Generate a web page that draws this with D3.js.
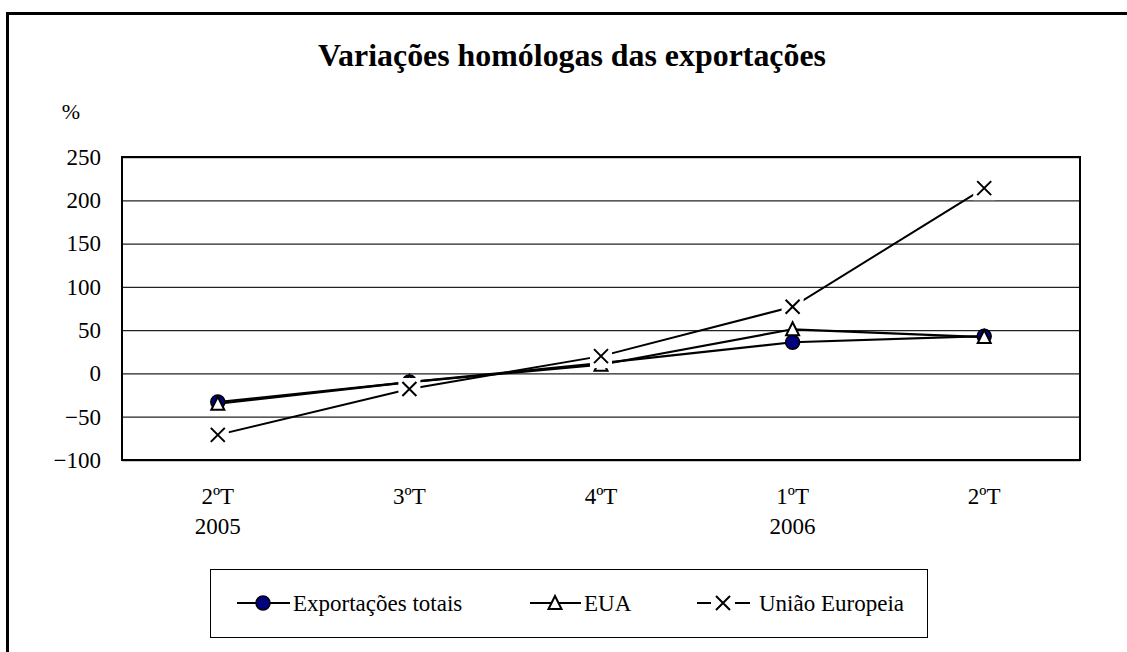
<!DOCTYPE html>
<html><head><meta charset="utf-8">
<script src="https://cdn.jsdelivr.net/npm/d3@7"></script>
<style>html,body{margin:0;padding:0;background:#fff;}svg{display:block;}</style>
</head><body>
<svg id="chart" width="1127" height="652"></svg>
<script>
const categories = ["2ºT", "3ºT", "4ºT", "1ºT", "2ºT"];
const years = ["2005", "", "", "2006", ""];
const totais = [-33, -10, 12, 36, 43];
const eua = [-35, -10, 10, 51, 42];
const ue = [-71, -18, 20, 77, 214];
const yTicks = [-100, -50, 0, 50, 100, 150, 200, 250];
const seriesNames = ["Exportações totais", "EUA", "União Europeia"];
const title = "Variações homólogas das exportações";

const FONT = "'Liberation Serif','Times New Roman',serif";
const FS = 23;
const svg = d3.select("#chart");

// outer frame
svg.append("rect").attr("x", 7.5).attr("y", 13.5).attr("width", 1200).attr("height", 700)
  .attr("fill", "none").attr("stroke", "#000").attr("stroke-width", 3);

svg.append("text").attr("x", 572).attr("y", 66).attr("text-anchor", "middle")
  .attr("font-family", FONT).attr("font-weight", "bold").attr("font-size", 31)
  .attr("textLength", 508).attr("lengthAdjust", "spacingAndGlyphs").text(title);

const L = 122, R = 1080, T = 157, B = 460;
const x = d3.scaleBand().domain(d3.range(categories.length)).range([L, R]);
const y = d3.scaleLinear().domain([-100, 250]).range([B, T]);
const cx = i => x(i) + x.bandwidth() / 2;

// gridlines
svg.append("g").attr("transform", `translate(${L},0)`)
  .call(d3.axisLeft(y).tickValues(yTicks).tickSize(-(R - L)).tickFormat(""))
  .call(s => s.select(".domain").remove())
  .call(s => s.selectAll("line").attr("stroke", "#222").attr("stroke-width", 1.3));

// tick labels
const yAx = svg.append("g").attr("transform", `translate(${L},0)`)
  .call(d3.axisLeft(y).tickValues(yTicks).tickSize(0).tickPadding(21));
yAx.select(".domain").remove();
yAx.selectAll("text").attr("font-family", FONT).attr("font-size", FS).attr("fill", "#000");

svg.append("text").attr("x", 71).attr("y", 119).attr("text-anchor", "middle")
  .attr("font-family", FONT).attr("font-size", 22).text("%");

// plot border
svg.append("rect").attr("x", L).attr("y", T).attr("width", R - L).attr("height", B - T)
  .attr("fill", "none").attr("stroke", "#000").attr("stroke-width", 2);

// x labels
const xAx = svg.append("g").attr("transform", `translate(0,${B})`)
  .call(d3.axisBottom(x).tickSize(0).tickPadding(0).tickFormat(i => categories[i]));
xAx.select(".domain").remove();
xAx.selectAll("text").attr("font-family", FONT).attr("font-size", FS).attr("fill", "#000")
  .attr("dy", null).attr("y", 44);
xAx.selectAll(".tick").append("text").attr("font-family", FONT).attr("font-size", FS)
  .attr("fill", "#000").attr("y", 74).attr("text-anchor", "middle").text(i => years[i]);

const line = d3.line().x((d, i) => cx(i)).y(d => y(d));
const data = [totais, eua, ue];
data.forEach((s, k) => {
  svg.append("path").attr("d", line(s)).attr("fill", "none")
    .attr("stroke", "#000").attr("stroke-width", k === 2 ? 2 : 2.2);
});

function circleMarker(sel, px, py) {
  sel.append("circle").attr("cx", px).attr("cy", py).attr("r", 7)
    .attr("fill", "#000080").attr("stroke", "#000").attr("stroke-width", 1.5);
}
function triMarker(sel, px, py) {
  sel.append("path").attr("d", `M${px},${py - 7} L${px + 6.5},${py + 6} L${px - 6.5},${py + 6} Z`)
    .attr("fill", "#fff").attr("stroke", "#000").attr("stroke-width", 2);
}
function xMarker(sel, px, py, bg) {
  if (bg) sel.append("rect").attr("x", px - 11).attr("y", py - 11).attr("width", 22).attr("height", 23).attr("fill", "#fff");
  sel.append("path").attr("d", `M${px - 7},${py - 7} L${px + 7},${py + 7} M${px + 7},${py - 7} L${px - 7},${py + 7}`)
    .attr("stroke", "#000").attr("stroke-width", 2).attr("fill", "none");
}
totais.forEach((v, i) => circleMarker(svg, cx(i), y(v)));
eua.forEach((v, i) => triMarker(svg, cx(i), y(v)));
ue.forEach((v, i) => xMarker(svg, cx(i), y(v), true));

// legend
const lg = svg.append("g");
lg.append("rect").attr("x", 210.5).attr("y", 569.5).attr("width", 717).attr("height", 68)
  .attr("fill", "#fff").attr("stroke", "#000").attr("stroke-width", 1);
const ly = 603;
const seg = (a, b) => lg.append("line").attr("x1", a).attr("x2", b).attr("y1", ly).attr("y2", ly)
  .attr("stroke", "#000").attr("stroke-width", 2);
seg(237, 290); circleMarker(lg, 263, ly);
seg(530, 581); triMarker(lg, 555, ly);
seg(697, 711); seg(735, 750); xMarker(lg, 723, ly, false);
const tx = [293, 584, 759];
tx.forEach((t, k) => lg.append("text").attr("x", t).attr("y", ly + 8).attr("font-family", FONT)
  .attr("font-size", FS).text(seriesNames[k]));
</script>
</body></html>
